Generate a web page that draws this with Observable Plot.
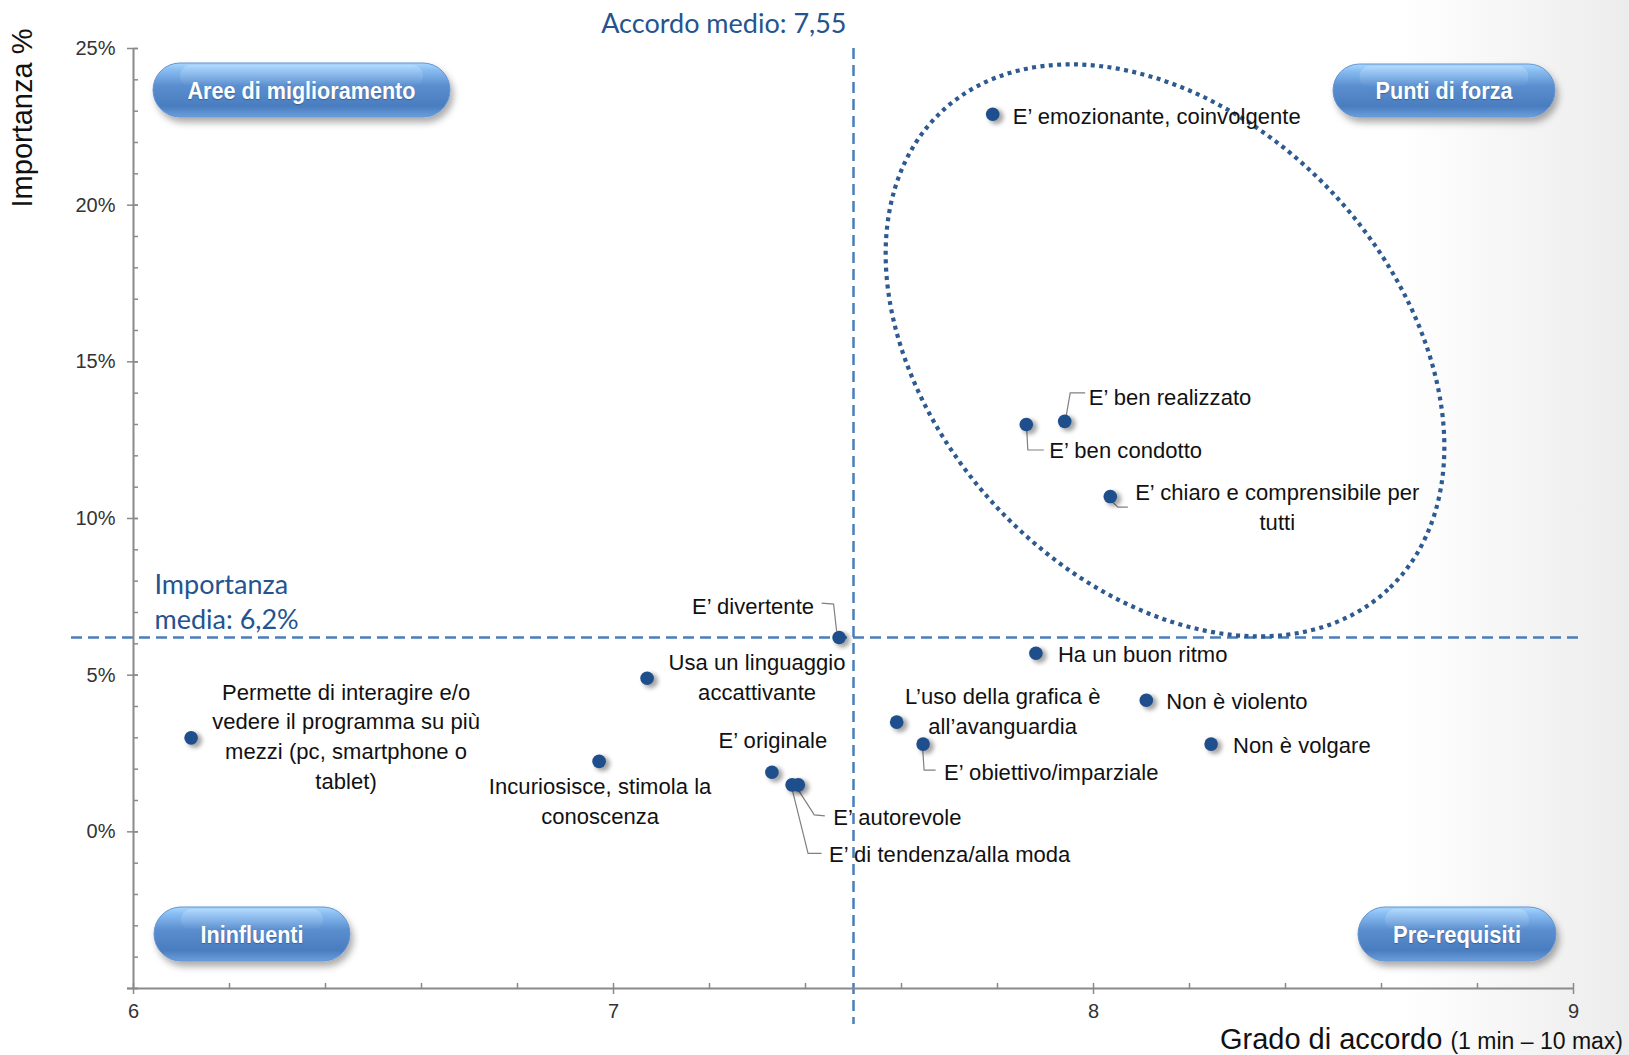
<!DOCTYPE html>
<html>
<head>
<meta charset="utf-8">
<script src="https://cdn.jsdelivr.net/npm/d3@7"></script>
<script src="https://cdn.jsdelivr.net/npm/@observablehq/plot@0.6"></script>
<style>
  html, body { margin: 0; padding: 0; background: #fff; overflow: hidden; }
  #chart { width: 1629px; height: 1055px; background: linear-gradient(to right, #ffffff 0%, #ffffff 86%, #ececec 100%); }
  g[aria-description="data-label"] text { letter-spacing: 0.05px; }
  g[aria-description="dot-shadow"] { filter: blur(2px); }
</style>
</head>
<body>
<div id="chart"></div>
<script>
// ---------------- DATA ----------------
const attributi = [
  "E’ emozionante, coinvolgente",
  "E’ ben realizzato",
  "E’ ben condotto",
  "E’ chiaro e comprensibile per\ntutti",
  "E’ divertente",
  "Ha un buon ritmo",
  "Usa un linguaggio\naccattivante",
  "Permette di interagire e/o\nvedere il programma su più\nmezzi (pc, smartphone o\ntablet)",
  "Incuriosisce, stimola la\nconoscenza",
  "E’ originale",
  "E’ autorevole",
  "E’ di tendenza/alla moda",
  "L’uso della grafica è\nall’avanguardia",
  "E’ obiettivo/imparziale",
  "Non è violento",
  "Non è volgare"
];
// Grado di accordo (1 min – 10 max)
const accordo = [7.79, 7.94, 7.86, 8.035, 7.47, 7.88, 7.07, 6.12, 6.97, 7.33, 7.385, 7.372, 7.59, 7.645, 8.11, 8.245];
// Importanza %
const importanza = [22.9, 13.1, 13.0, 10.7, 6.2, 5.7, 4.9, 3.0, 2.25, 1.9, 1.5, 1.5, 3.5, 2.8, 4.2, 2.8];

const accordoMedio = 7.5;            // position of the dashed line as drawn
const accordoMedioLabel = "Accordo medio: 7,55";
const importanzaMedia = 6.2;
const importanzaMediaLabel = "Importanza\nmedia: 6,2%";

const xTicks = [6, 7, 8, 9];
const xMinorTicks = [6.2, 6.4, 6.6, 6.8, 7.2, 7.4, 7.6, 7.8, 8.2, 8.4, 8.6, 8.8];
const yTicks = [0, 5, 10, 15, 20, 25];
const yMajorMarks = [-5, 0, 5, 10, 15, 20, 25];
const yMinorTicks = d3.range(-5, 26, 1);
const xDomain = [6, 9];
const yDomain = [-5, 25];

const quadranti = ["Aree di miglioramento", "Punti di forza", "Ininfluenti", "Pre-requisiti"];
const xTitle = ["Grado di accordo ", "(1 min – 10 max)"];
const yTitle = "Importanza %";

// Highlight ellipse around the "punti di forza" (centre in data units)
const ellipseCentre = {x: 8.15, y: 15.35};

// ---------------- LAYOUT (styling only) ----------------
const labelLayout = [
  {anchor: "start",  dx: 20,  dy: 0},
  {anchor: "start",  dx: 24,  dy: -26, leader: [[2,-5],[6,-28],[21,-28]]},
  {anchor: "start",  dx: 23,  dy: 24,  leader: [[1,6],[2,26],[18,26]]},
  {anchor: "middle", dx: 167, dy: 9,   leader: [[2,5],[8,11],[18,11]]},
  {anchor: "end",    dx: -25, dy: -33, leader: [[-17,-34],[-5,-33],[-2,-6]]},
  {anchor: "start",  dx: 22,  dy: -1},
  {anchor: "middle", dx: 110, dy: -3},
  {anchor: "middle", dx: 155, dy: -3},
  {anchor: "middle", dx: 1,   dy: 38},
  {anchor: "middle", dx: 1,   dy: -34},
  {anchor: "start",  dx: 35,  dy: 31,  leader: [[-1.5,2.5],[16.5,30.5],[27,31.5]]},
  {anchor: "start",  dx: 37,  dy: 68,  leader: [[0,2.5],[16.5,69],[30,69]]},
  {anchor: "middle", dx: 106, dy: -13},
  {anchor: "start",  dx: 21,  dy: 26,  leader: [[0,4],[1.5,26.5],[13,26.5]]},
  {anchor: "start",  dx: 20,  dy: -1},
  {anchor: "start",  dx: 22,  dy: -1}
];

const data = attributi.map((name, i) => ({name, x: accordo[i], y: importanza[i], i}));

const W = 1629, H = 1055;
const blueDot = "#1f4e8c";
const refBlue = "#4a7ebb";
const axisGray = "#8a8a8a";
const annBlue = "#24548f";
const sans = "'Liberation Sans', Arial, sans-serif";
const humanist = "Lato, 'Open Sans', sans-serif";

// custom annotation layer (ellipse, leaders, quadrant pills, axis titles)
function annotations(index, scales, values, dims) {
  const {x, y} = scales;
  const left = dims.marginLeft, right = dims.width - dims.marginRight;
  const top = dims.marginTop, bottom = dims.height - dims.marginBottom;
  const g = d3.create("svg:g");
  const defs = g.append("defs");
  const lg = defs.append("linearGradient").attr("id", "pillGrad")
    .attr("x1", 0).attr("y1", 0).attr("x2", 0).attr("y2", 1);
  [[0, "#a8d6fd"], [0.14, "#86bbf1"], [0.42, "#5a8ecf"], [0.8, "#4a7dbf"], [1, "#6b9edc"]]
    .forEach(([o, c]) => lg.append("stop").attr("offset", o).attr("stop-color", c));
  const hl = defs.append("linearGradient").attr("id", "pillGloss")
    .attr("x1", 0).attr("y1", 0).attr("x2", 0).attr("y2", 1);
  [[0, "#ffffff", 0.22], [1, "#ffffff", 0.0]]
    .forEach(([o, c, a]) => hl.append("stop").attr("offset", o).attr("stop-color", c).attr("stop-opacity", a));
  const f = defs.append("filter").attr("id", "pillShadow")
    .attr("x", "-20%").attr("y", "-40%").attr("width", "145%").attr("height", "200%");
  f.append("feDropShadow").attr("dx", 3).attr("dy", 5).attr("stdDeviation", 3.5)
    .attr("flood-color", "#000").attr("flood-opacity", 0.33);

  // ellipse
  g.append("ellipse")
    .attr("cx", 0).attr("cy", 0).attr("rx", 327).attr("ry", 230)
    .attr("transform", `translate(${x(ellipseCentre.x)},${y(ellipseCentre.y)}) rotate(47)`)
    .attr("fill", "none").attr("stroke", "#2e5a90").attr("stroke-width", 4.2)
    .attr("stroke-dasharray", "4 4.4");

  // leader lines
  data.forEach((d, i) => {
    const L = labelLayout[i].leader;
    if (!L) return;
    const px = x(d.x), py = y(d.y);
    g.append("polyline")
      .attr("points", L.map(([a, b]) => `${px + a},${py + b}`).join(" "))
      .attr("fill", "none").attr("stroke", "#808080").attr("stroke-width", 1.2);
  });

  // quadrant pills
  const pills = [
    {text: quadranti[0], x0: left + 20, y0: top + 15, w: 297, h: 54, tl: 228},
    {text: quadranti[1], x0: right - 18 - 222, y0: top + 16, w: 222, h: 53, tl: 137},
    {text: quadranti[2], x0: left + 21, y0: bottom - 81, w: 196, h: 54, tl: 103},
    {text: quadranti[3], x0: right - 17 - 198, y0: bottom - 81, w: 198, h: 54, tl: 128}
  ];
  pills.forEach(p => {
    const pg = g.append("g");
    pg.append("rect").attr("x", p.x0).attr("y", p.y0).attr("width", p.w).attr("height", p.h)
      .attr("rx", p.h / 2).attr("fill", "url(#pillGrad)").attr("stroke", "#6394d2").attr("stroke-width", 1)
      .attr("filter", "url(#pillShadow)");
    pg.append("rect").attr("x", p.x0 + p.h * 0.5).attr("y", p.y0 + 2).attr("width", p.w - p.h).attr("height", p.h * 0.4)
      .attr("rx", p.h * 0.2).attr("fill", "url(#pillGloss)");
    pg.append("text").attr("x", p.x0 + p.w / 2).attr("y", p.y0 + p.h / 2 + 8.5)
      .attr("text-anchor", "middle").attr("fill", "#fff")
      .attr("font-family", sans).attr("font-weight", "bold").attr("font-size", 24)
      .attr("textLength", p.tl).attr("lengthAdjust", "spacingAndGlyphs")
      .style("text-shadow", "0 1px 1px rgba(0,0,0,0.25)")
      .text(p.text);
  });

  // axis titles
  const xt = g.append("text").attr("x", right + 50).attr("y", bottom + 61)
    .attr("text-anchor", "end").attr("fill", "#111").attr("font-family", sans);
  xt.append("tspan").attr("font-size", 29).text(xTitle[0]);
  xt.append("tspan").attr("font-size", 23).text(xTitle[1]);
  g.append("text").attr("transform", `translate(32,${top + 70}) rotate(-90)`)
    .attr("text-anchor", "middle").attr("fill", "#111").attr("font-family", sans)
    .attr("font-size", 29).text(yTitle);
  return g.node();
}

const marks = [
  // reference (mean) lines
  Plot.ruleX([accordoMedio], {stroke: refBlue, strokeWidth: 2.5, strokeDasharray: "11 6", insetBottom: -36}),
  Plot.ruleY([importanzaMedia], {stroke: refBlue, strokeWidth: 2.5, strokeDasharray: "11 6", insetLeft: -62, insetRight: -11}),
  // axis lines
  Plot.ruleX([xDomain[0]], {stroke: axisGray, strokeWidth: 2}),
  Plot.ruleY([yDomain[0]], {stroke: axisGray, strokeWidth: 2, insetLeft: -6}),
  // tick marks
  Plot.ruleY(yMinorTicks, {x1: () => xDomain[0], x2: () => xDomain[0], insetRight: -5, stroke: axisGray, strokeWidth: 1.5}),
  Plot.ruleY(yMajorMarks, {x1: () => xDomain[0], x2: () => xDomain[0], insetLeft: -6, insetRight: -5, stroke: axisGray, strokeWidth: 1.5}),
  Plot.ruleX(xMinorTicks, {y1: () => yDomain[0], y2: () => yDomain[0], insetTop: -5, stroke: axisGray, strokeWidth: 1.5}),
  Plot.ruleX(xTicks, {y1: () => yDomain[0], y2: () => yDomain[0], insetTop: -5, insetBottom: -6, stroke: axisGray, strokeWidth: 1.5}),
  // mean labels
  Plot.text([accordoMedio], {x: d => d, frameAnchor: "top", dx: -7, dy: -35, textAnchor: "end",
    text: () => accordoMedioLabel, fill: annBlue, fontSize: 27, fontFamily: humanist}),
  Plot.text([importanzaMedia], {y: d => d, frameAnchor: "left", dx: 21, dy: -37, textAnchor: "start",
    lineHeight: 1.3, text: () => importanzaMediaLabel, fill: annBlue, fontSize: 27, fontFamily: humanist}),
  annotations,
  // points with soft shadow
  Plot.dot(data, {x: "x", y: "y", r: 7.5, fill: "#000", fillOpacity: 0.35, dx: 3.5, dy: 2.5, ariaDescription: "dot-shadow"}),
  Plot.dot(data, {x: "x", y: "y", r: 6.8, fill: blueDot}),
  // labels
  ...data.map((d, i) => Plot.text([d], {
    x: "x", y: "y", text: "name",
    dx: labelLayout[i].dx, dy: labelLayout[i].dy, textAnchor: labelLayout[i].anchor,
    lineHeight: 1.36, fontSize: 22, fontFamily: sans, fill: "#111", ariaDescription: "data-label"
  }))
];

const chart = Plot.plot({
  width: W,
  height: H,
  marginLeft: 133,
  marginRight: 56,
  marginTop: 48,
  marginBottom: 67,
  style: {background: "transparent", fontFamily: sans, fontSize: "20px", color: "#333", overflow: "visible"},
  x: {domain: xDomain, ticks: xTicks, tickSize: 0, tickPadding: 15, tickFormat: d => String(d), label: null},
  y: {domain: yDomain, ticks: yTicks, tickSize: 0, tickPadding: 18, tickFormat: d => d + "%", label: null},
  marks
});
document.getElementById("chart").appendChild(chart);
</script>
</body>
</html>
